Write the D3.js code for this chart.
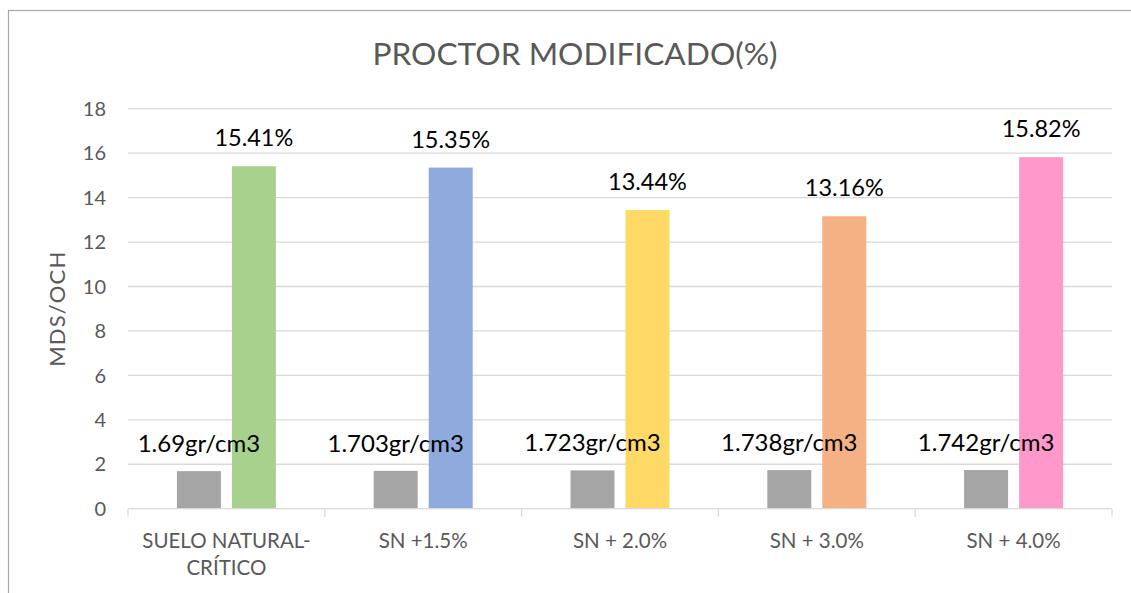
<!DOCTYPE html>
<html>
<head>
<meta charset="utf-8">
<script src="https://cdn.jsdelivr.net/npm/d3@7"></script>
<style>
  body { margin: 0; background: #fff; }
  svg { display: block; font-family: Lato, "Open Sans", sans-serif; }
</style>
</head>
<body>
<svg id="chart" width="1131" height="593"></svg>
<script>
var categories = [['SUELO NATURAL-', 'CRÍTICO'], ['SN +1.5%'], ['SN + 2.0%'], ['SN + 3.0%'], ['SN + 4.0%']];
var mdsValues = [1.69, 1.703, 1.723, 1.738, 1.742];
var mdsLabels = ['1.69gr/cm3', '1.703gr/cm3', '1.723gr/cm3', '1.738gr/cm3', '1.742gr/cm3'];
var ochValues = [15.41, 15.35, 13.44, 13.16, 15.82];
var ochLabels = ['15.41%', '15.35%', '13.44%', '13.16%', '15.82%'];
var ochColors = ['#A9D18E', '#8FAADC', '#FFD966', '#F4B183', '#FF99CC'];
var yTicks = [0, 2, 4, 6, 8, 10, 12, 14, 16, 18];

var svg = d3.select('#chart');
var plotLeft = 128, plotRight = 1112, plotTop = 108.7, plotBottom = 508.7;

// chart border
svg.append('rect')
  .attr('x', 8.5).attr('y', 10.5)
  .attr('width', 1140).attr('height', 600)
  .attr('fill', 'none')
  .attr('stroke', '#A6A6A6')
  .attr('stroke-width', 1.2);

svg.append('text')
  .attr('x', 575).attr('y', 65)
  .attr('text-anchor', 'middle')
  .attr('fill', '#595959')
  .attr('font-size', 31.7)
  .text('PROCTOR MODIFICADO(%)');

var x = d3.scaleBand().domain(d3.range(categories.length)).range([plotLeft, plotRight]);
var y = d3.scaleLinear().domain([0, 18]).range([plotBottom, plotTop]);

// gridlines
svg.append('g').selectAll('line')
  .data(yTicks.slice(1))
  .enter().append('line')
    .attr('x1', plotLeft).attr('x2', plotRight)
    .attr('y1', function(d) { return y(d); })
    .attr('y2', function(d) { return y(d); })
    .attr('stroke', '#D9D9D9').attr('stroke-width', 1.3);

// y tick labels
svg.append('g').selectAll('text')
  .data(yTicks)
  .enter().append('text')
    .attr('x', plotLeft - 22)
    .attr('y', function(d) { return y(d); })
    .attr('dy', '0.36em')
    .attr('text-anchor', 'end')
    .attr('fill', '#595959')
    .attr('font-size', 20)
    .text(function(d) { return d; });

svg.append('text')
  .attr('transform', 'translate(65,' + ((plotTop + plotBottom) / 2) + ') rotate(-90)')
  .attr('text-anchor', 'middle')
  .attr('fill', '#595959')
  .attr('font-size', 22)
  .attr('letter-spacing', 1.2)
  .text('MDS/OCH');

var barW = 44, gap = 11;
function cx(i) { return x(i) + x.bandwidth() / 2; }

// bars
svg.append('g').selectAll('rect')
  .data(mdsValues)
  .enter().append('rect')
    .attr('x', function(d, i) { return cx(i) - gap / 2 - barW; })
    .attr('y', function(d) { return y(d); })
    .attr('width', barW)
    .attr('height', function(d) { return y(0) - y(d); })
    .attr('fill', '#A5A5A5');

svg.append('g').selectAll('rect')
  .data(ochValues)
  .enter().append('rect')
    .attr('x', function(d, i) { return cx(i) + gap / 2; })
    .attr('y', function(d) { return y(d); })
    .attr('width', barW)
    .attr('height', function(d) { return y(0) - y(d); })
    .attr('fill', function(d, i) { return ochColors[i]; });

// axis line and ticks
svg.append('line')
  .attr('x1', plotLeft).attr('x2', plotRight)
  .attr('y1', plotBottom).attr('y2', plotBottom)
  .attr('stroke', '#D9D9D9').attr('stroke-width', 1.3);

svg.append('g').selectAll('line')
  .data(d3.range(categories.length + 1))
  .enter().append('line')
    .attr('x1', function(d) { return plotLeft + d * x.bandwidth(); })
    .attr('x2', function(d) { return plotLeft + d * x.bandwidth(); })
    .attr('y1', plotBottom).attr('y2', plotBottom + 8)
    .attr('stroke', '#D9D9D9').attr('stroke-width', 1.3);

// data labels
svg.append('g').selectAll('text')
  .data(mdsValues)
  .enter().append('text')
    .attr('x', function(d, i) { return cx(i) - gap / 2 - barW / 2; })
    .attr('y', function(d) { return y(d) - 19; })
    .attr('text-anchor', 'middle')
    .attr('font-size', 24)
    .attr('fill', '#000')
    .text(function(d, i) { return mdsLabels[i]; });

svg.append('g').selectAll('text')
  .data(ochValues)
  .enter().append('text')
    .attr('x', function(d, i) { return cx(i) + gap / 2 + barW / 2; })
    .attr('y', function(d) { return y(d) - 20; })
    .attr('text-anchor', 'middle')
    .attr('font-size', 23.5)
    .attr('fill', '#000')
    .text(function(d, i) { return ochLabels[i]; });

// category labels
var cat = svg.append('g').selectAll('text')
  .data(categories)
  .enter().append('text')
    .attr('text-anchor', 'middle')
    .attr('fill', '#595959')
    .attr('font-size', 20.5);

cat.selectAll('tspan')
  .data(function(d, i) { return d.map(function(s) { return {s: s, i: i}; }); })
  .enter().append('tspan')
    .attr('x', function(d) { return cx(d.i); })
    .attr('y', function(d, j) { return 548 + j * 27; })
    .text(function(d) { return d.s; });
</script>
</body>
</html>
